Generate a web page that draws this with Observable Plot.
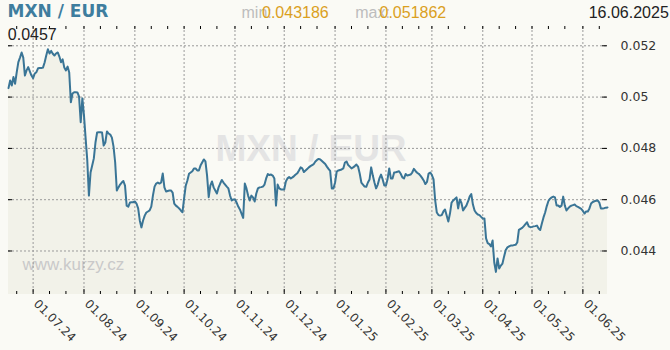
<!DOCTYPE html>
<html><head><meta charset="utf-8">
<script src="https://cdn.jsdelivr.net/npm/d3@7"></script>
<script src="https://cdn.jsdelivr.net/npm/@observablehq/plot@0.6"></script>
<style>
html,body{margin:0;padding:0;background:#fafaf5;}
#chart{width:670px;height:350px;}
</style></head><body><div id="chart"></div>
<script>
const title = "MXN / EUR";
const dateLabel = "16.06.2025";
const lastLabel = "0.0457";
const minText = "min:";
const maxText = "max:";
const minValue = "0.043186";
const maxValue = "0.051862";
const watermark = "www.kurzy.cz";
const startDate = "2024-06-16";
const endDate = "2025-06-16";
const values = [
0.05035,0.05065,0.05045,0.05078,0.05052,0.05096,0.05136,0.05154,0.05174,0.05154,
0.05084,0.05104,0.05117,0.05100,0.05084,0.05074,0.05092,0.05097,0.05112,0.05113,
0.05113,0.05115,0.05135,0.05162,0.051862,0.05170,0.05180,0.05169,0.05162,0.05170,
0.05174,0.05158,0.05136,0.05147,0.05115,0.05104,0.05119,0.05096,0.04980,0.05014,
0.05019,0.05019,0.05018,0.05002,0.04902,0.04995,0.04928,0.04839,0.04753,0.04616,
0.04706,0.04733,0.04761,0.04823,0.04862,0.04863,0.04863,0.04862,0.04811,0.04823,
0.04866,0.04858,0.04854,0.04842,0.04807,0.04745,0.04636,0.04648,0.04659,0.04667,
0.04673,0.04655,0.04577,0.04573,0.04589,0.04590,0.04590,0.04593,0.04585,0.04566,
0.04519,0.04492,0.04519,0.04538,0.04550,0.04554,0.04558,0.04573,0.04616,0.04651,
0.04663,0.04667,0.04663,0.04667,0.04702,0.04648,0.04632,0.04634,0.04636,0.04636,
0.04628,0.04585,0.04577,0.04572,0.04566,0.04558,0.04551,0.04605,0.04655,0.04675,
0.04701,0.04706,0.04711,0.04722,0.04722,0.04714,0.04714,0.04733,0.04745,0.04757,
0.04749,0.04694,0.04610,0.04655,0.04671,0.04648,0.04636,0.04624,0.04648,0.04663,
0.04677,0.04667,0.04659,0.04651,0.04644,0.04616,0.04597,0.04601,0.04601,0.04589,
0.04573,0.04562,0.04546,0.04529,0.04663,0.04644,0.04616,0.04597,0.04616,0.04609,
0.04593,0.04624,0.04644,0.04648,0.04649,0.04651,0.04659,0.04683,0.04700,0.04696,
0.04698,0.04694,0.04683,0.04577,0.04659,0.04644,0.04640,0.04640,0.04640,0.04671,
0.04683,0.04688,0.04683,0.04687,0.04692,0.04698,0.04703,0.04714,0.04726,0.04722,
0.04708,0.04714,0.04720,0.04726,0.04731,0.04735,0.04739,0.04749,0.04755,0.04759,
0.04757,0.04751,0.04745,0.04739,0.04729,0.04720,0.04712,0.04644,0.04644,0.04667,
0.04710,0.04714,0.04716,0.04718,0.04722,0.04745,0.04749,0.04735,0.04729,0.04722,
0.04726,0.04731,0.04737,0.04729,0.04702,0.04667,0.04659,0.04651,0.04650,0.04667,
0.04679,0.04726,0.04694,0.04667,0.04644,0.04659,0.04683,0.04698,0.04679,0.04655,
0.04655,0.04681,0.04722,0.04683,0.04683,0.04706,0.04707,0.04709,0.04711,0.04701,
0.04687,0.04683,0.04700,0.04694,0.04696,0.04698,0.04706,0.04720,0.04712,0.04705,
0.04701,0.04694,0.04685,0.04675,0.04661,0.04669,0.04702,0.04706,0.04696,0.04679,
0.04597,0.04550,0.04540,0.04538,0.04540,0.04554,0.04562,0.04538,0.04515,0.04546,
0.04589,0.04597,0.04603,0.04609,0.04566,0.04601,0.04587,0.04558,0.04568,0.04577,
0.04593,0.04612,0.04622,0.04581,0.04558,0.04548,0.04542,0.04540,0.04533,0.04527,
0.04527,0.04449,0.04431,0.04427,0.04418,0.04441,0.04355,0.043186,0.04371,0.04332,
0.04343,0.04351,0.04379,0.04404,0.04414,0.04418,0.04421,0.04421,0.04423,0.04424,
0.04433,0.04482,0.04486,0.04490,0.04497,0.04505,0.04512,0.04496,0.04493,0.04494,
0.04496,0.04497,0.04499,0.04488,0.04482,0.04507,0.04531,0.04550,0.04575,0.04595,
0.04604,0.04609,0.04612,0.04609,0.04577,0.04577,0.04572,0.04577,0.04612,0.04577,
0.04558,0.04566,0.04573,0.04577,0.04579,0.04581,0.04575,0.04572,0.04568,0.04564,
0.04556,0.04546,0.04554,0.04554,0.04566,0.04585,0.04591,0.04594,0.04596,0.04597,
0.04589,0.04566,0.04566,0.04567,0.04569,0.04570
];
const monthTicks = ["2024-07-01","2024-08-01","2024-09-01","2024-10-01","2024-11-01","2024-12-01",
  "2025-01-01","2025-02-01","2025-03-01","2025-04-01","2025-05-01","2025-06-01"];
const monthLabels = ["01.07.24","01.08.24","01.09.24","01.10.24","01.11.24","01.12.24",
  "01.01.25","01.02.25","01.03.25","01.04.25","01.05.25","01.06.25"];
const minorDays = [11, 21];
const yTicks = [0.044, 0.046, 0.048, 0.05, 0.052];
const yLabels = ["0.044", "0.046", "0.048", "0.05", "0.052"];
const yDomain = [0.042304, 0.052752];

const parse = d3.utcParse("%Y-%m-%d");
const dates = d3.utcDay.range(parse(startDate), d3.utcDay.offset(parse(endDate), 1));
const data = dates.map((date, i) => ({date, value: values[i]}));
const months = monthTicks.map(parse);
const monthData = months.map((d, i) => ({d, label: monthLabels[i]}));
const minor = dates.filter(d => minorDays.includes(d.getUTCDate()));
const yData = yTicks.map((v, i) => ({v, label: yLabels[i]}));

const lineColor = "#3a7596";
const grid = {stroke: "#9a9a9a", strokeDasharray: "2,2", strokeWidth: 1};
const hdr = {frameAnchor: "top-left", lineAnchor: "bottom", text: d => d, textAnchor: "start"};

const chart = Plot.plot({
  width: 670, height: 350,
  marginLeft: 8, marginRight: 63, marginTop: 26, marginBottom: 56,
  style: {background: "transparent", fontFamily: "DejaVu Sans", overflow: "visible"},
  x: {type: "utc", domain: [parse(startDate), parse(endDate)], axis: null},
  y: {domain: yDomain, axis: null},
  marks: [
    Plot.areaY(data, {x: "date", y1: yDomain[0], y2: "value", fill: "#f2f2e9"}),
    Plot.text([title], {frameAnchor: "middle", text: d => d, dx: 3, dy: -11, fontSize: 37, fontWeight: "bold", fontFamily: "Liberation Sans", fill: "#e4e4e4"}),
    Plot.text([watermark], {frameAnchor: "bottom-left", lineAnchor: "bottom", text: d => d, textAnchor: "start", dx: 14, dy: -25, fontSize: 17, fontFamily: "Liberation Sans", fill: "#c9c9c9"}),
    Plot.ruleX(months, {x: d => d, ...grid}),
    Plot.ruleY(yTicks, {y: d => d, ...grid}),
    Plot.lineY(data, {x: "date", y: "value", stroke: lineColor, strokeWidth: 2}),
    Plot.tickY(yTicks, {y: d => d, stroke: "#000", insetRight: 595}),
    Plot.tickY(yTicks, {y: d => d, stroke: "#000", insetLeft: 594}),
    Plot.tickX(months, {x: d => d, stroke: "#000", insetTop: 263}),
    Plot.tickX(minor, {x: d => d, stroke: "#000", insetTop: 265}),
    Plot.tickX(months.concat(minor), {x: d => d, stroke: "#000", insetBottom: 265}),
    Plot.text(yData, {y: "v", text: "label", frameAnchor: "right", dx: 13, textAnchor: "start", fontSize: 12.5, fill: "#333"}),
    Plot.text(monthData, {x: "d", text: "label", frameAnchor: "bottom", dy: 10, rotate: 45, textAnchor: "start", fontSize: 12, fill: "#333"}),
    Plot.text([title], {...hdr, dx: -1, dy: -9.3, fontSize: 17, fontWeight: "bold", fill: "#3e7d9e"}),
    Plot.text([minText], {...hdr, dx: 233, dy: -8.7, fontSize: 16, fontFamily: "Liberation Sans", fill: "#bdbdbd"}),
    Plot.text([minValue], {...hdr, dx: 253.5, dy: -8.7, fontSize: 16, fontFamily: "Liberation Sans", fill: "#daa01e"}),
    Plot.text([maxText], {...hdr, dx: 346.7, dy: -8.7, fontSize: 16, fontFamily: "Liberation Sans", fill: "#bdbdbd"}),
    Plot.text([maxValue], {...hdr, dx: 371, dy: -8.7, fontSize: 16, fontFamily: "Liberation Sans", fill: "#daa01e"}),
    Plot.text([dateLabel], {...hdr, frameAnchor: "top-right", textAnchor: "end", dx: 61.3, dy: -8.7, fontSize: 16, fontFamily: "Liberation Sans", fill: "#222"}),
    Plot.text([lastLabel], {...hdr, dx: -0.7, dy: 13.3, fontSize: 16, fontFamily: "Liberation Sans", fill: "#222"})
  ]
});
document.getElementById("chart").appendChild(chart);
</script>
</body></html>
